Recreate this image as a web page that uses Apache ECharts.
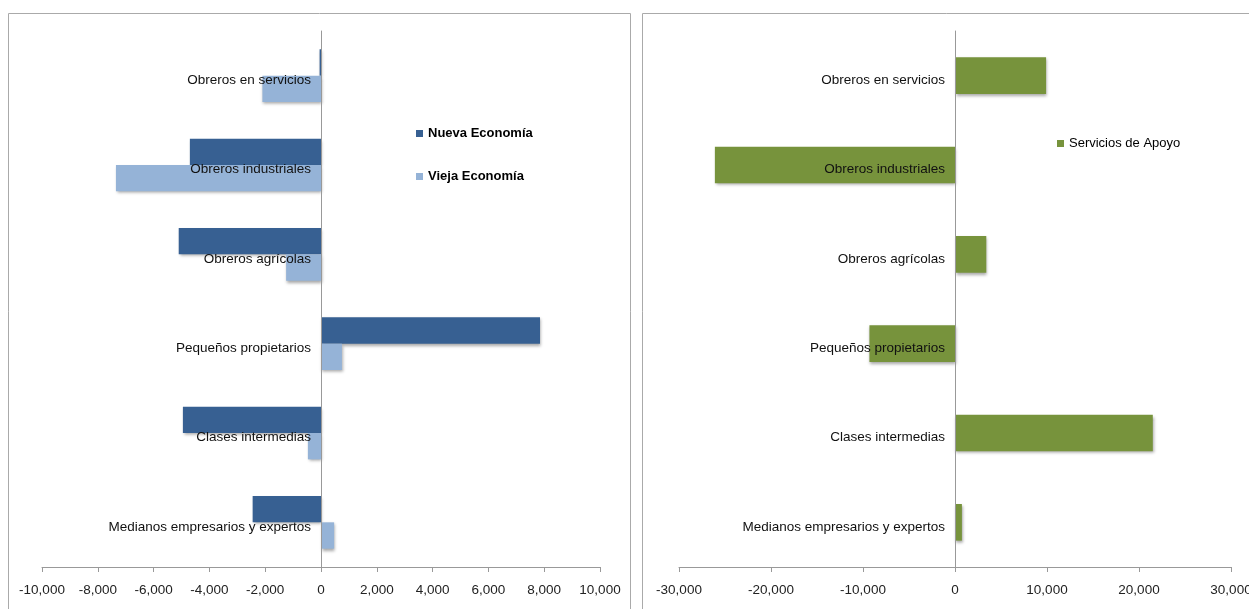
<!DOCTYPE html>
<html>
<head>
<meta charset="utf-8">
<script src="https://cdn.jsdelivr.net/npm/echarts@6/dist/echarts.min.js"></script>
<style>
  html, body { margin: 0; padding: 0; background: #fff; }
  #chart { width: 1249px; height: 609px; }
</style>
</head>
<body>
<div id="chart"></div>
<script>
// categorias (de arriba hacia abajo)
const categories = [
  "Obreros en servicios",
  "Obreros industriales",
  "Obreros agrícolas",
  "Pequeños propietarios",
  "Clases intermedias",
  "Medianos empresarios y expertos",
];
const nuevaEconomia = [-50, -4700, -5100, 7850, -4950, -2450];
const viejaEconomia = [-2100, -7350, -1250, 750, -470, 470];
const serviciosApoyo = [9900, -26100, 3400, -9300, 21500, 750];

const leftTicks = { min: -10000, max: 10000, interval: 2000 };
const rightTicks = { min: -30000, max: 30000, interval: 10000 };

const FONT = "'Liberation Sans', Arial, sans-serif";
const fmt = (v) => v.toLocaleString("en-US");

const shadow = {
  shadowColor: "rgba(0,0,0,0.35)",
  shadowBlur: 3,
  shadowOffsetX: 1,
  shadowOffsetY: 2,
};

const grids = [
  { left: 42, top: 31, width: 558, height: 536, containLabel: false, outerBoundsMode: "none" },
  { left: 679, top: 31, width: 552, height: 536, containLabel: false, outerBoundsMode: "none" },
];

function valueAxis(idx, t) {
  return {
    type: "value",
    gridIndex: idx,
    min: t.min,
    max: t.max,
    interval: t.interval,
    splitLine: { show: false },
    axisLine: { show: true, lineStyle: { color: "#999" } },
    axisTick: { show: true, length: 5, lineStyle: { color: "#999" } },
    axisLabel: {
      color: "#222",
      fontFamily: FONT,
      fontSize: 13.5,
      margin: 16,
      formatter: fmt,
    },
  };
}

function catAxis(idx) {
  return {
    type: "category",
    gridIndex: idx,
    data: categories,
    inverse: true,
    z: 10,
    axisLine: { onZero: true, lineStyle: { color: "#999" } },
    axisTick: { length: 4, lineStyle: { color: "#999" } },
    axisLabel: {
      margin: 10,
      formatter: "{a|{value}}",
      rich: {
        // un poco mas abajo, como en el original
        a: { color: "#111", fontFamily: FONT, fontSize: 13.5, padding: [9, 0, 0, 0] },
      },
    },
  };
}

const chart = echarts.init(document.getElementById("chart"));
chart.setOption({
  animation: false,
  graphic: [
    // marcos de los dos paneles
    {
      type: "rect",
      shape: { x: 8.5, y: 13.5, width: 622, height: 620 },
      style: { fill: "none", stroke: "#aaa", lineWidth: 1 },
      z: -1,
    },
    {
      type: "rect",
      shape: { x: 642.5, y: 13.5, width: 640, height: 620 },
      style: { fill: "none", stroke: "#aaa", lineWidth: 1 },
      z: -1,
    },
  ],
  grid: grids,
  legend: [
    {
      orient: "vertical",
      left: 411,
      top: 122,
      itemWidth: 7,
      itemHeight: 7,
      itemGap: 30,
      icon: "rect",
      textStyle: { fontFamily: FONT, fontSize: 13, fontWeight: "bold", color: "#000" },
      data: ["Nueva Economía", "Vieja Economía"],
    },
    {
      orient: "vertical",
      left: 1052,
      top: 132,
      itemWidth: 7,
      itemHeight: 7,
      icon: "rect",
      textStyle: { fontFamily: FONT, fontSize: 13, color: "#000" },
      data: ["Servicios de Apoyo"],
    },
  ],
  xAxis: [valueAxis(0, leftTicks), valueAxis(1, rightTicks)],
  yAxis: [catAxis(0), catAxis(1)],
  series: [
    {
      name: "Nueva Economía",
      type: "bar",
      xAxisIndex: 0,
      yAxisIndex: 0,
      data: nuevaEconomia,
      barGap: "0%",
      barCategoryGap: "41%",
      itemStyle: Object.assign({ color: "#376092" }, shadow),
    },
    {
      name: "Vieja Economía",
      type: "bar",
      xAxisIndex: 0,
      yAxisIndex: 0,
      data: viejaEconomia,
      barGap: "0%",
      barCategoryGap: "41%",
      itemStyle: Object.assign({ color: "#95B3D7" }, shadow),
    },
    {
      name: "Servicios de Apoyo",
      type: "bar",
      xAxisIndex: 1,
      yAxisIndex: 1,
      data: serviciosApoyo,
      barCategoryGap: "59%",
      itemStyle: Object.assign({ color: "#77933C" }, shadow),
    },
  ],
});

// mover el eje de categorias (linea y etiquetas) hasta el cero del eje de valores
const offsets = grids.map((g, i) => {
  const zeroX = chart.convertToPixel({ xAxisIndex: i }, 0);
  return { offset: -(zeroX - g.left) };
});
chart.setOption({ yAxis: offsets });
</script>
</body>
</html>
